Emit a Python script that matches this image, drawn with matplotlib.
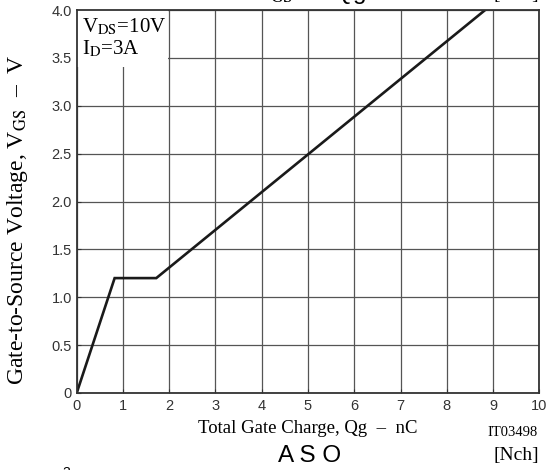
import matplotlib
matplotlib.use('Agg')
import matplotlib.pyplot as plt
from matplotlib.patches import Rectangle

# Gate charge curve
qg = [0, 0.82, 1.72, 8.83]
vgs = [0, 1.2, 1.2, 4.0]

x_ticks = list(range(0, 11))
y_ticks = [0, 0.5, 1.0, 1.5, 2.0, 2.5, 3.0, 3.5, 4.0]
y_tick_labels = ['0', '0.5', '1.0', '1.5', '2.0', '2.5', '3.0', '3.5', '4.0']

plt.rcParams['mathtext.fontset'] = 'stix'
serif = 'Liberation Serif'
sans = 'Liberation Sans'
W, H = 548, 470

fig = plt.figure(figsize=(5.48, 4.70), dpi=100)
ax = fig.add_axes([76.7 / W, 1 - 393 / H, (539.3 - 76.7) / W, (393 - 10) / H])

ax.set_xlim(0, 10)
ax.set_ylim(0, 4)
ax.set_xticks(x_ticks)
ax.set_yticks(y_ticks)
ax.set_yticklabels(y_tick_labels)
ax.tick_params(direction='in', length=3, width=0.8, colors='#333333', labelsize=10.5, pad=3.5)
ax.tick_params(axis='x', pad=4.5)
for lab in ax.get_xticklabels() + ax.get_yticklabels():
    lab.set_fontfamily(sans)
ax.grid(True, color='#555555', linewidth=0.9, zorder=1)
for s in ax.spines.values():
    s.set_linewidth(1.3)
    s.set_color('#333333')
    s.set_zorder(5)

# white box behind the conditions text
ax.add_patch(Rectangle((0, 3.4), 1.97, 0.6, facecolor='white', edgecolor='none', zorder=2))
ax.text(0.11, 3.77, r'V$_{\rm DS}$=10V', family=serif, fontsize=15, va='baseline', zorder=3)
ax.text(0.11, 3.54, r'I$_{\rm D}$=3A', family=serif, fontsize=15, va='baseline', zorder=3)

ax.plot(qg, vgs, color='#1a1a1a', linewidth=1.9, zorder=4, solid_joinstyle='miter')

fig.text(308 / W, 1 - 433 / H, 'Total Gate Charge, Qg  –  nC', family=serif, fontsize=13.5,
         ha='center', va='baseline')
fig.text(18 / W, 1 - 219.5 / H, r'Gate-to-Source Voltage, V$_{\rm GS}$  –  V', family=serif,
         fontsize=17, rotation=90, ha='center', va='center')

fig.text(513 / W, 1 - 436 / H, 'IT03498', family=serif, fontsize=10.5, ha='center', va='baseline')
fig.text(310 / W, 1 - 462 / H, 'A S O', family=sans, fontsize=17.5, ha='center', va='baseline')
fig.text(516 / W, 1 - 460 / H, '[Nch]', family=serif, fontsize=14, ha='center', va='baseline')
# cut-off headings at the edges of the crop
fig.text(310 / W, 1 + 1 / H, r'V$_{\rm GS}$  –  Qg', family=sans, fontsize=17.5, ha='center', va='baseline')
fig.text(516 / W, 1 + 1 / H, '[Nch]', family=serif, fontsize=14, ha='center', va='baseline')
fig.text(66 / W, 1 - 477 / H, '3', family=sans, fontsize=10, ha='center', va='baseline')

fig.savefig('out.png', dpi=100)
